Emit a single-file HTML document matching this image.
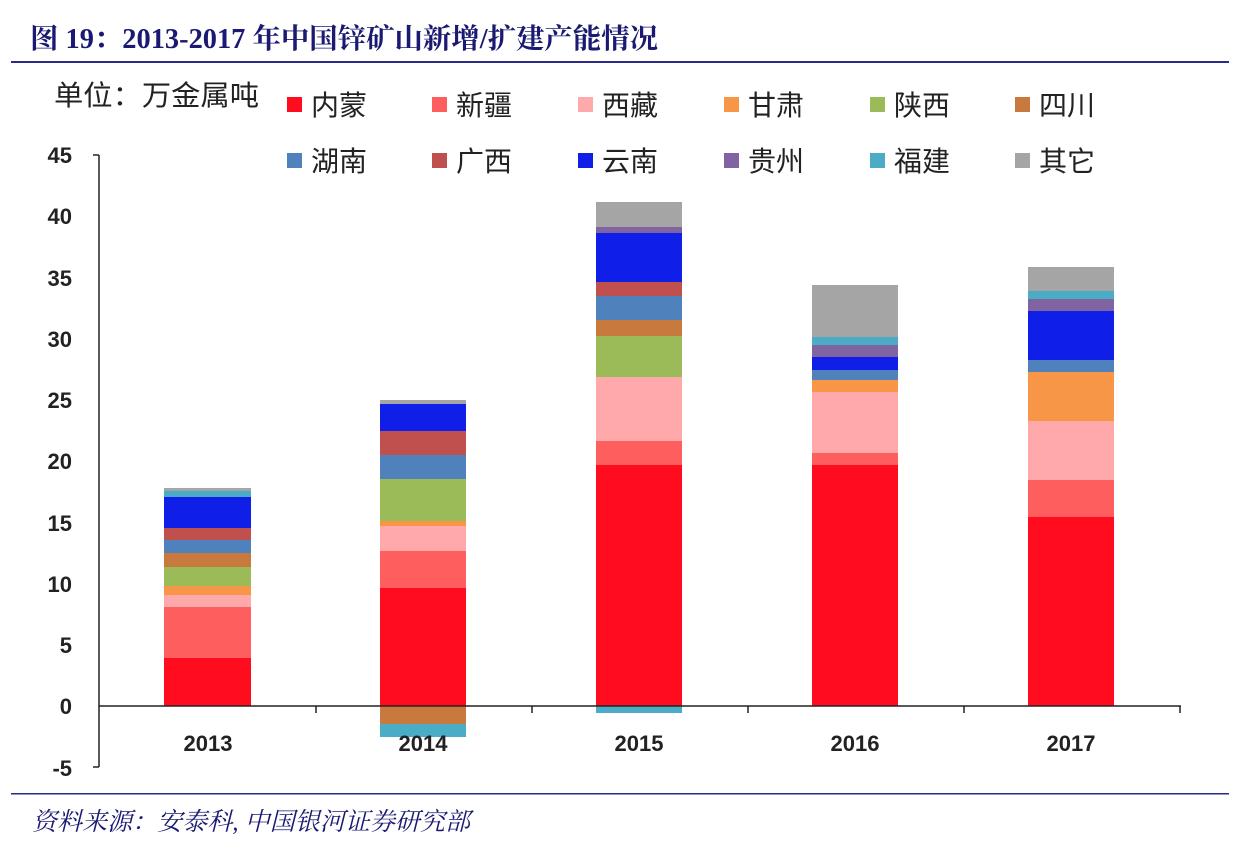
<!DOCTYPE html>
<html><head><meta charset="utf-8"><style>
body{margin:0;background:#fff;}
svg text{font-family:"Liberation Sans","Noto Sans CJK SC",sans-serif;}
</style></head><body>
<svg width="1260" height="844" xmlns="http://www.w3.org/2000/svg">
<rect width="1260" height="844" fill="#fff"/>
<text x="30" y="48" font-size="25" font-weight="bold" fill="#1a1a72" textLength="628" lengthAdjust="spacingAndGlyphs" style="font-family:'Liberation Serif','Noto Serif CJK SC',serif;font-size:28px">图 19：2013-2017 年中国锌矿山新增/扩建产能情况</text>
<rect x="11" y="61" width="1218" height="2" fill="#2a2a8a"/>
<text x="54" y="105" font-size="28" fill="#222" textLength="205" lengthAdjust="spacingAndGlyphs">单位：万金属吨</text>
<g font-size="28" fill="#222">
<rect x="287" y="97" width="15" height="15" fill="#FF0D1F"/><text x="311" y="115">内蒙</text>
<rect x="432" y="97" width="15" height="15" fill="#FF5E5E"/><text x="456" y="115">新疆</text>
<rect x="578" y="97" width="15" height="15" fill="#FFA9AA"/><text x="602" y="115">西藏</text>
<rect x="724" y="97" width="15" height="15" fill="#F79646"/><text x="748" y="115">甘肃</text>
<rect x="870" y="97" width="15" height="15" fill="#9BBB59"/><text x="894" y="115">陕西</text>
<rect x="1015" y="97" width="15" height="15" fill="#C87A3E"/><text x="1039" y="115">四川</text>
<rect x="287" y="153" width="15" height="15" fill="#4F81BD"/><text x="311" y="171">湖南</text>
<rect x="432" y="153" width="15" height="15" fill="#C0504D"/><text x="456" y="171">广西</text>
<rect x="578" y="153" width="15" height="15" fill="#0F1FE8"/><text x="602" y="171">云南</text>
<rect x="724" y="153" width="15" height="15" fill="#8064A2"/><text x="748" y="171">贵州</text>
<rect x="870" y="153" width="15" height="15" fill="#4BACC6"/><text x="894" y="171">福建</text>
<rect x="1015" y="153" width="15" height="15" fill="#A5A5A5"/><text x="1039" y="171">其它</text>
</g>
<g font-size="22" font-weight="bold" fill="#222" text-anchor="end">
<text x="72" y="163">45</text><text x="72" y="224">40</text><text x="72" y="286">35</text>
<text x="72" y="347">30</text><text x="72" y="408">25</text><text x="72" y="469">20</text>
<text x="72" y="531">15</text><text x="72" y="592">10</text><text x="72" y="653">5</text>
<text x="72" y="714">0</text><text x="72" y="776">-5</text>
</g>
<g>
<rect x="164" y="658" width="87" height="48" fill="#FF0D1F"/>
<rect x="164" y="607" width="87" height="51" fill="#FF5E5E"/>
<rect x="164" y="595" width="87" height="12" fill="#FFA9AA"/>
<rect x="164" y="586" width="87" height="9" fill="#F79646"/>
<rect x="164" y="567" width="87" height="19" fill="#9BBB59"/>
<rect x="164" y="553" width="87" height="14" fill="#C87A3E"/>
<rect x="164" y="540" width="87" height="13" fill="#4F81BD"/>
<rect x="164" y="528" width="87" height="12" fill="#C0504D"/>
<rect x="164" y="497" width="87" height="31" fill="#0F1FE8"/>
<rect x="164" y="491" width="87" height="6" fill="#4BACC6"/>
<rect x="164" y="488" width="87" height="3" fill="#A5A5A5"/>
</g>
<g>
<rect x="380" y="588" width="86" height="118" fill="#FF0D1F"/>
<rect x="380" y="551" width="86" height="37" fill="#FF5E5E"/>
<rect x="380" y="526" width="86" height="25" fill="#FFA9AA"/>
<rect x="380" y="521" width="86" height="5" fill="#F79646"/>
<rect x="380" y="479" width="86" height="42" fill="#9BBB59"/>
<rect x="380" y="455" width="86" height="24" fill="#4F81BD"/>
<rect x="380" y="431" width="86" height="24" fill="#C0504D"/>
<rect x="380" y="404" width="86" height="27" fill="#0F1FE8"/>
<rect x="380" y="400" width="86" height="4" fill="#A5A5A5"/>
<rect x="380" y="706" width="86" height="18" fill="#C87A3E"/>
<rect x="380" y="724" width="86" height="13" fill="#4BACC6"/>
</g>
<g>
<rect x="596" y="465" width="86" height="241" fill="#FF0D1F"/>
<rect x="596" y="441" width="86" height="24" fill="#FF5E5E"/>
<rect x="596" y="377" width="86" height="64" fill="#FFA9AA"/>
<rect x="596" y="336" width="86" height="41" fill="#9BBB59"/>
<rect x="596" y="320" width="86" height="16" fill="#C87A3E"/>
<rect x="596" y="296" width="86" height="24" fill="#4F81BD"/>
<rect x="596" y="282" width="86" height="14" fill="#C0504D"/>
<rect x="596" y="233" width="86" height="49" fill="#0F1FE8"/>
<rect x="596" y="227" width="86" height="6" fill="#8064A2"/>
<rect x="596" y="202" width="86" height="25" fill="#A5A5A5"/>
<rect x="596" y="706" width="86" height="7" fill="#4BACC6"/>
</g>
<g>
<rect x="812" y="465" width="86" height="241" fill="#FF0D1F"/>
<rect x="812" y="453" width="86" height="12" fill="#FF5E5E"/>
<rect x="812" y="392" width="86" height="61" fill="#FFA9AA"/>
<rect x="812" y="380" width="86" height="12" fill="#F79646"/>
<rect x="812" y="370" width="86" height="10" fill="#4F81BD"/>
<rect x="812" y="357" width="86" height="13" fill="#0F1FE8"/>
<rect x="812" y="345" width="86" height="12" fill="#8064A2"/>
<rect x="812" y="337" width="86" height="8" fill="#4BACC6"/>
<rect x="812" y="285" width="86" height="52" fill="#A5A5A5"/>
</g>
<g>
<rect x="1028" y="517" width="86" height="189" fill="#FF0D1F"/>
<rect x="1028" y="480" width="86" height="37" fill="#FF5E5E"/>
<rect x="1028" y="421" width="86" height="59" fill="#FFA9AA"/>
<rect x="1028" y="372" width="86" height="49" fill="#F79646"/>
<rect x="1028" y="360" width="86" height="12" fill="#4F81BD"/>
<rect x="1028" y="311" width="86" height="49" fill="#0F1FE8"/>
<rect x="1028" y="299" width="86" height="12" fill="#8064A2"/>
<rect x="1028" y="291" width="86" height="8" fill="#4BACC6"/>
<rect x="1028" y="267" width="86" height="24" fill="#A5A5A5"/>
</g>
<g stroke="#222" stroke-width="1.5" fill="none">
<line x1="99" y1="155" x2="99" y2="767"/>
<line x1="93" y1="155" x2="99" y2="155"/>
<line x1="93" y1="767" x2="99" y2="767"/>
<line x1="99" y1="706" x2="1181" y2="706"/>
<line x1="316" y1="706" x2="316" y2="713"/>
<line x1="532" y1="706" x2="532" y2="713"/>
<line x1="748" y1="706" x2="748" y2="713"/>
<line x1="964" y1="706" x2="964" y2="713"/>
<line x1="1180" y1="706" x2="1180" y2="713"/>
</g>
<g font-size="22" font-weight="bold" fill="#222" text-anchor="middle">
<text x="208" y="751">2013</text><text x="423" y="751">2014</text><text x="639" y="751">2015</text>
<text x="855" y="751">2016</text><text x="1071" y="751">2017</text>
</g>
<rect x="11" y="793" width="1218" height="1.5" fill="#2a2a8a"/>
<text x="32" y="830" font-style="italic" fill="#1a1a72" textLength="438" lengthAdjust="spacingAndGlyphs" style="font-family:'Liberation Serif','Noto Serif CJK SC',serif;font-size:25px">资料来源：安泰科, 中国银河证券研究部</text>
</svg>
</body></html>
